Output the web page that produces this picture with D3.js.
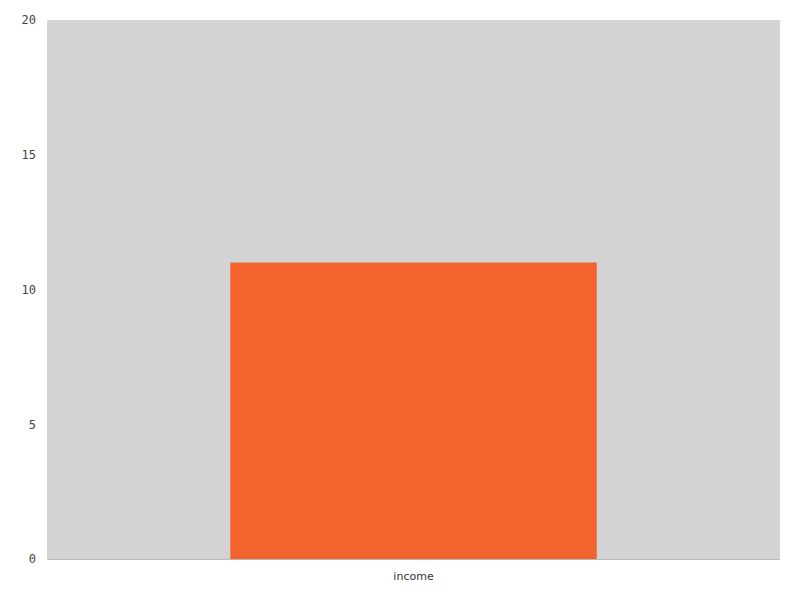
<!DOCTYPE html>
<html>
<head>
<meta charset="utf-8">
<script src="https://cdn.jsdelivr.net/npm/d3@7"></script>
<style>
html,body{margin:0;padding:0;background:#fff;}
svg{display:block;}
.ytick{font-family:"DejaVu Sans Mono",monospace;font-size:12px;fill:#444;}
.xtick{font-family:"DejaVu Sans",sans-serif;font-size:11px;fill:#333;}
</style>
</head>
<body>
<svg id="chart" width="800" height="600"></svg>
<script>
const categories = ["income"];
const values = [11];
const yTicks = [0, 5, 10, 15, 20];

const W = 800, H = 600;
const m = {top: 20, right: 20, bottom: 41, left: 47};
const svg = d3.select("#chart");

const x = d3.scaleBand().domain(categories).range([m.left, W - m.right]).paddingInner(0).paddingOuter(0.5);
const y = d3.scaleLinear().domain([0, 20]).range([H - m.bottom, m.top]);

svg.append("rect")
  .attr("x", m.left).attr("y", m.top)
  .attr("width", W - m.left - m.right).attr("height", H - m.top - m.bottom)
  .attr("fill", "#d3d3d3");

svg.selectAll("rect.bar").data(values).enter().append("rect")
  .attr("class", "bar")
  .attr("x", (d, i) => x(categories[i]))
  .attr("width", x.bandwidth())
  .attr("y", d => y(d))
  .attr("height", d => y(0) - y(d))
  .attr("fill", "#f2632e");

svg.append("line")
  .attr("x1", m.left).attr("x2", W - m.right)
  .attr("y1", y(0) + 0.5).attr("y2", y(0) + 0.5)
  .attr("stroke", "#bbb");

const yAxis = d3.axisLeft(y).tickValues(yTicks).tickSize(0).tickPadding(11);
const gy = svg.append("g").attr("transform", `translate(${m.left},0)`).call(yAxis);
gy.select(".domain").remove();
gy.selectAll("text").attr("class", "ytick").attr("fill", null);

const xAxis = d3.axisBottom(x).tickSize(0).tickPadding(13);
const gx = svg.append("g").attr("transform", `translate(0,${y(0)})`).call(xAxis);
gx.select(".domain").remove();
gx.selectAll("text").attr("class", "xtick").attr("fill", null);
</script>
</body>
</html>
